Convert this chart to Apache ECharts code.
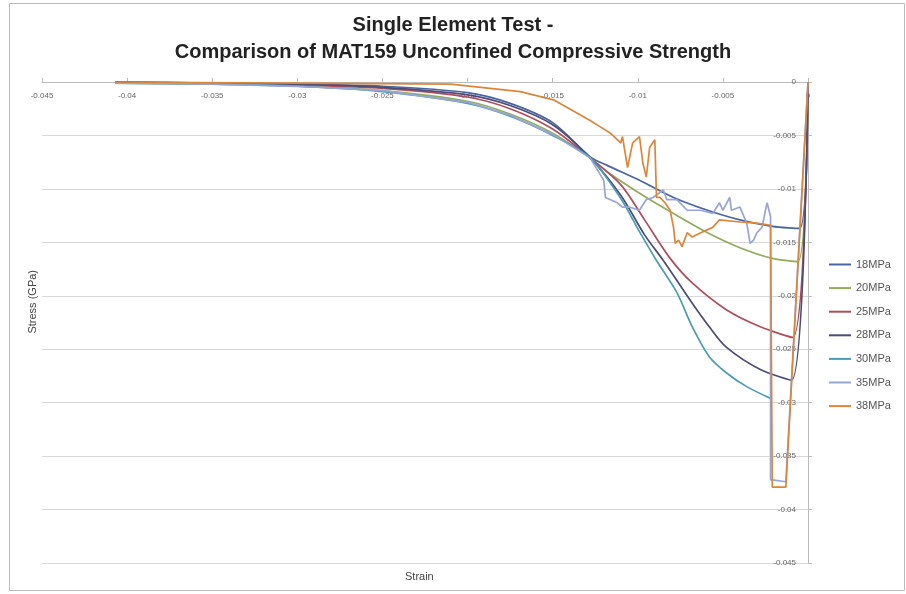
<!DOCTYPE html>
<html>
<head>
<meta charset="utf-8">
<script src="https://cdn.jsdelivr.net/npm/echarts@6/dist/echarts.min.js"></script>
<style>
  html, body { margin: 0; padding: 0; background: #fff; }
  #chart { width: 906px; height: 594px; }
</style>
</head>
<body>
<div id="chart"></div>
<script>
// [strain, stress (GPa)]
const mpa18 = [[-0.0407, 0], [-0.035, -0.0001], [-0.03, -0.0002], [-0.025, -0.0004], [-0.02, -0.0010], [-0.0175, -0.0020], [-0.015, -0.0038],
  [-0.0128, -0.0070], [-0.0118, -0.0078], [-0.0099, -0.0092], [-0.0079, -0.0108], [-0.0059, -0.0120], [-0.0040, -0.0129], [-0.0021, -0.0135], [-0.0005, -0.0137], [0, 0]]
const mpa20 = [[-0.0407, -0.0001], [-0.035, -0.0002], [-0.03, -0.0004], [-0.025, -0.0008], [-0.02, -0.0018], [-0.0175, -0.0030], [-0.015, -0.0048],
  [-0.0128, -0.0071], [-0.0118, -0.0084], [-0.0099, -0.0104], [-0.0079, -0.0123], [-0.0059, -0.0141], [-0.0040, -0.0155], [-0.0021, -0.0165], [-0.0006, -0.0168], [0, 0]]
const mpa25 = [[-0.0407, 0], [-0.035, -0.0001], [-0.03, -0.0003], [-0.025, -0.0006], [-0.02, -0.0014], [-0.0175, -0.0025], [-0.015, -0.0044],
  [-0.0128, -0.0071], [-0.0110, -0.0096], [-0.0096, -0.0129], [-0.0081, -0.0165], [-0.0068, -0.0188], [-0.0048, -0.0213], [-0.0028, -0.0229], [-0.0009, -0.0239], [0, 0]]
const mpa28 = [[-0.0407, 0], [-0.035, -0.0001], [-0.03, -0.0002], [-0.025, -0.0005], [-0.02, -0.0012], [-0.0175, -0.0022], [-0.015, -0.0040],
  [-0.0128, -0.0071], [-0.0110, -0.0106], [-0.0096, -0.0143], [-0.0085, -0.0167], [-0.0068, -0.0207], [-0.0058, -0.0229], [-0.0048, -0.0248], [-0.0028, -0.0269], [-0.00097, -0.0279], [0, 0]]
const mpa30 = [[-0.0407, -0.0001], [-0.035, -0.0002], [-0.03, -0.0004], [-0.025, -0.0009], [-0.02, -0.0020], [-0.0175, -0.0032], [-0.015, -0.0050],
  [-0.0128, -0.0071], [-0.0110, -0.0109], [-0.0099, -0.0140], [-0.0089, -0.0167], [-0.0077, -0.0197], [-0.0068, -0.0229], [-0.0058, -0.0257], [-0.0048, -0.0272], [-0.0036, -0.0285], [-0.0022, -0.0296]]
const mpa35 = [[-0.0407, -0.0001], [-0.035, -0.0002], [-0.03, -0.0004], [-0.025, -0.0008], [-0.02, -0.0019], [-0.0175, -0.0031], [-0.015, -0.0049],
  [-0.0128, -0.0071], [-0.0120, -0.0092], [-0.0119, -0.0108], [-0.0112, -0.0113], [-0.0109, -0.0117], [-0.0105, -0.0117], [-0.0099, -0.0120],
  [-0.0095, -0.0110], [-0.0091, -0.0108], [-0.0085, -0.0101], [-0.0083, -0.0110], [-0.0077, -0.0110], [-0.0071, -0.0120], [-0.0063, -0.0120],
  [-0.0056, -0.0123], [-0.0052, -0.0113], [-0.0050, -0.0120], [-0.0046, -0.0108], [-0.0045, -0.0120], [-0.0040, -0.0117], [-0.0036, -0.0132],
  [-0.0034, -0.0151], [-0.0032, -0.0148], [-0.0030, -0.0141], [-0.0027, -0.0136], [-0.0025, -0.0120], [-0.0024, -0.0113], [-0.0022, -0.0126],
  [-0.0022, -0.0372], [-0.0013, -0.0374], [0, 0]]
const mpa38 = [[-0.0407, 0], [-0.03, -0.0001], [-0.021, -0.0002], [-0.0169, -0.0009], [-0.0149, -0.0017], [-0.0128, -0.0036], [-0.0122, -0.0042],
  [-0.0116, -0.0048], [-0.0110, -0.0057], [-0.0109, -0.0051], [-0.0106, -0.0080], [-0.0103, -0.0057], [-0.0099, -0.0051], [-0.0097, -0.0076],
  [-0.0095, -0.0089], [-0.0093, -0.0061], [-0.0090, -0.0054], [-0.0089, -0.0108], [-0.0087, -0.0108], [-0.0084, -0.0113], [-0.0081, -0.0120],
  [-0.0079, -0.0136], [-0.0078, -0.0151], [-0.0076, -0.0148], [-0.0074, -0.0154], [-0.0071, -0.0141], [-0.0068, -0.0145], [-0.0063, -0.0141],
  [-0.0056, -0.0136], [-0.0052, -0.0129], [-0.0040, -0.0131], [-0.0030, -0.0132], [-0.0022, -0.0134], [-0.0021, -0.0134],
  [-0.0021, -0.0379], [-0.0013, -0.0379], [0, 0]]

const seriesNames = ['18MPa', '20MPa', '25MPa', '28MPa', '30MPa', '35MPa', '38MPa']
const seriesData = [mpa18, mpa20, mpa25, mpa28, mpa30, mpa35, mpa38]
const seriesColors = ['#4a66a0', '#93ab5c', '#ad4f5b', '#4d4c78', '#4b9db4', '#97a5d6', '#dc863c']
// smooth curves vs. the noisy ones
const seriesSmooth = [true, true, true, true, true, false, false]

const myChart = echarts.init(document.getElementById('chart'))
myChart.setOption({
  animation: false,
  title: {
    text: 'Single Element Test -\nComparison of MAT159 Unconfined Compressive Strength',
    left: 'center',
    top: 7,
    textStyle: {
      fontFamily: 'Liberation Sans, Arial',
      fontWeight: 'bold',
      fontSize: 20,
      lineHeight: 27,
      color: '#222'
    }
  },
  legend: {
    orient: 'vertical',
    left: 824,
    top: 254,
    itemWidth: 22,
    itemHeight: 2,
    itemGap: 12.6,
    icon: 'rect',
    textStyle: { fontFamily: 'Liberation Sans, Arial', fontSize: 11, color: '#555' },
    data: seriesNames
  },
  grid: { left: 42, right: 98, top: 82, bottom: 31 },
  xAxis: {
    type: 'value',
    position: 'top',
    min: -0.045,
    max: 0,
    interval: 0.005,
    axisLine: { lineStyle: { color: '#bbb', width: 1 } },
    axisTick: { show: true, length: 4, lineStyle: { color: '#bbb' } },
    axisLabel: { inside: true, margin: 10, fontSize: 8, color: '#666', fontFamily: 'Liberation Sans, Arial' },
    splitLine: { show: false }
  },
  yAxis: {
    type: 'value',
    position: 'right',
    min: -0.045,
    max: 0,
    interval: 0.005,
    axisLine: { show: true, lineStyle: { color: '#bbb', width: 1 } },
    axisTick: { show: true, length: 4, lineStyle: { color: '#bbb' } },
    axisLabel: { inside: true, margin: 12, fontSize: 8, color: '#666', fontFamily: 'Liberation Sans, Arial' },
    splitLine: { show: true, lineStyle: { color: '#d9d9d9', width: 1 } }
  },
  graphic: [
    {
      type: 'rect',
      shape: { x: 9.5, y: 3.5, width: 895, height: 587 },
      style: { fill: 'none', stroke: '#bbb', lineWidth: 1 },
      silent: true
    },
    {
      type: 'text',
      left: 27,
      top: 270,
      rotation: Math.PI / 2,
      style: { text: 'Stress (GPa)', font: '11px Liberation Sans, Arial', fill: '#444' }
    },
    {
      type: 'text',
      left: 405,
      top: 571,
      style: { text: 'Strain', font: '11px Liberation Sans, Arial', fill: '#444' }
    }
  ],
  series: seriesNames.map((name, i) => ({
    name: name,
    type: 'line',
    data: seriesData[i],
    showSymbol: false,
    symbol: 'none',
    smooth: seriesSmooth[i] ? 0.3 : false,
    color: seriesColors[i],
    lineStyle: { width: 1.7 },
    z: 2 + i
  }))
})
</script>
</body>
</html>
